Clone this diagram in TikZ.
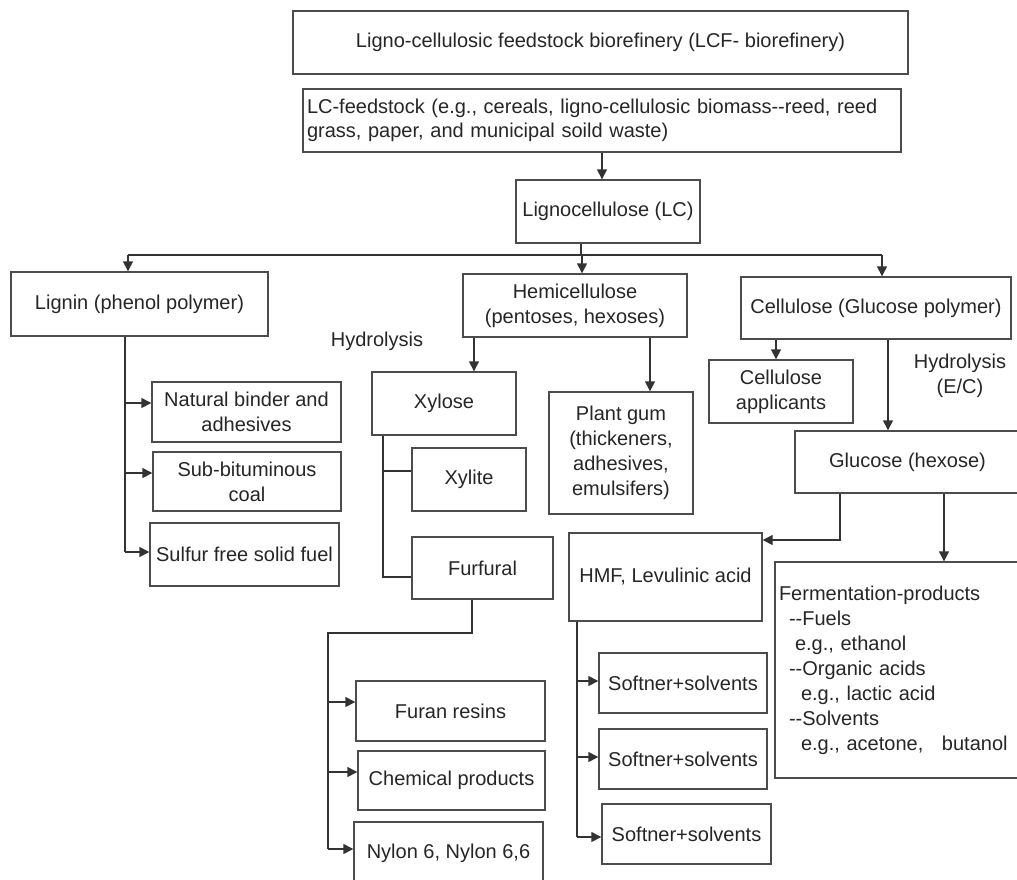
\documentclass[tikz,border=0pt]{standalone}
\usepackage{fontspec}
\setmainfont{Liberation Sans}
\usetikzlibrary{arrows.meta}
\begin{document}
\begin{tikzpicture}[x=1pt,y=-1pt,
  txt/.style={font=\fontsize{20}{25}\selectfont, text=black!85},
  box/.style={txt, draw=black!70, line width=1.4pt, rectangle, inner sep=3pt, align=center},
  conn/.style={draw=black!80, line width=1.4pt},
  arr/.style={conn, -{Triangle[length=10pt,width=10pt]}}
]
\useasboundingbox (0,0) rectangle (1017,879);
\clip (0,0) rectangle (1017,879);
\fill[white] (0,0) rectangle (1017,879);

% boxes
\node[box, minimum width=615, minimum height=63] (title) at (600.5,42.5) {Ligno-cellulosic feedstock biorefinery (LCF- biorefinery)};
\node[box, minimum width=598, minimum height=63, text width=590, align=left, font=\fontsize{20}{24}\selectfont] (feed) at (602,120.5) {LC-feedstock (e.g., cereals, ligno-cellulosic biomass-{}-reed, reed\\grass, paper, and municipal soild waste)};
\node[box, minimum width=184, minimum height=63] (lc) at (608,211.5) {Lignocellulose (LC)};
\node[box, minimum width=257, minimum height=64] (lignin) at (139.5,304) {Lignin (phenol polymer)};
\node[box, minimum width=224, minimum height=63] (hemi) at (575,305.5) {Hemicellulose\\(pentoses, hexoses)};
\node[box, minimum width=270, minimum height=62] (cell) at (876,308) {Cellulose (Glucose polymer)};
\node[box, minimum width=144, minimum height=63] (xylose) at (444,403.5) {Xylose};
\node[box, minimum width=144, minimum height=122] (gum) at (621,453) {Plant gum\\(thickeners,\\adhesives,\\emulsifers)};
\node[box, minimum width=144, minimum height=63] (celapp) at (781,391.5) {Cellulose\\applicants};
\node[box, minimum width=114, minimum height=63] (xylite) at (469,479.5) {Xylite};
\node[box, minimum width=141, minimum height=62] (furfural) at (482.5,568) {Furfural};
\node[box, minimum width=225, minimum height=62] (glucose) at (907.5,462) {Glucose (hexose)};
\node[box, minimum width=193, minimum height=88] (hmf) at (665.5,577) {HMF, Levulinic acid};
\node[box, minimum width=250, minimum height=216, text width=242, align=left, inner xsep=4pt] (ferm) at (900,670) {Fermentation-products\\
\hspace*{10pt}-{}-Fuels\\
\hspace*{16pt}e.g., ethanol\\
\hspace*{10pt}-{}-Organic acids\\
\hspace*{22pt}e.g., lactic acid\\
\hspace*{10pt}-{}-Solvents\\
\hspace*{22pt}e.g., acetone,\hspace*{12pt} butanol};
\node[box, minimum width=189, minimum height=60] (natural) at (246.5,412) {Natural binder and\\adhesives};
\node[box, minimum width=188, minimum height=59] (subbit) at (247,481.5) {Sub-bituminous\\coal};
\node[box, minimum width=189, minimum height=63] (sulfur) at (244.5,554.5) {Sulfur free solid fuel};
\node[box, minimum width=189, minimum height=60] (furan) at (450.5,711) {Furan resins};
\node[box, minimum width=187, minimum height=59] (chem) at (451.5,780.5) {Chemical products};
\node[box, minimum width=189, minimum height=62] (nylon) at (448.5,853) {Nylon 6, Nylon 6,6};
\node[box, minimum width=168, minimum height=60] (soft1) at (683,683) {Softner+solvents};
\node[box, minimum width=168, minimum height=60] (soft2) at (683,759) {Softner+solvents};
\node[box, minimum width=169, minimum height=60] (soft3) at (686.5,834) {Softner+solvents};

% labels
\node[txt] (hyd1) at (377,341) {Hydrolysis};
\node[txt, align=center] (hyd2) at (960,376) {Hydrolysis\\(E/C)};

% coordinates
\coordinate (bus) at (581,255);
\coordinate (busL) at (128,255);
\coordinate (busM) at (582,255);
\coordinate (busR) at (882,255);
\coordinate (lg1) at (125,403);
\coordinate (lg2) at (125,473);
\coordinate (lg3) at (125,552);
\coordinate (xy1) at (383,471);
\coordinate (xy2) at (383,577);
\coordinate (fu1) at (472,633);
\coordinate (fu2) at (328,633);
\coordinate (fa) at (328,702);
\coordinate (fb) at (328,772);
\coordinate (fc) at (328,849);
\coordinate (hm1) at (577,681);
\coordinate (hm2) at (577,757);
\coordinate (hm3) at (577,837);
\coordinate (gl1) at (840,540);

% connectors
\draw[arr] (feed.south) -- (feed.south |- lc.north);
\draw[conn] (lc.south -| bus) -- (bus);
\draw[conn] (busL) -- (busR);
\draw[arr] (busL) -- (busL |- lignin.north);
\draw[arr] (busM) -- (busM |- hemi.north);
\draw[arr] (busR) -- (busR |- cell.north);

\draw[conn] (lignin.south -| lg1) -- (lg3);
\draw[arr] (lg1) -- (lg1 -| natural.west);
\draw[arr] (lg2) -- (lg2 -| subbit.west);
\draw[arr] (lg3) -- (lg3 -| sulfur.west);

\draw[arr] (hemi.south -| 474,0) -- (xylose.north -| 474,0);
\draw[arr] (hemi.south -| 650,0) -- (gum.north -| 650,0);

\draw[conn] (xylose.south -| xy1) -- (xy2) -- (xy2 -| furfural.west);
\draw[conn] (xy1) -- (xy1 -| xylite.west);

\draw[conn] (furfural.south -| fu1) -- (fu1) -- (fu2) -- (fc);
\draw[arr] (fa) -- (fa -| furan.west);
\draw[arr] (fb) -- (fb -| chem.west);
\draw[arr] (fc) -- (fc -| nylon.west);

\draw[conn] (hmf.south -| hm1) -- (hm3);
\draw[arr] (hm1) -- (hm1 -| soft1.west);
\draw[arr] (hm2) -- (hm2 -| soft2.west);
\draw[arr] (hm3) -- (hm3 -| soft3.west);

\draw[arr] (cell.south -| 776,0) -- (celapp.north -| 776,0);
\draw[arr] (cell.south -| 888,0) -- (glucose.north -| 888,0);

\draw[arr] (glucose.south -| gl1) -- (gl1) -- (gl1 -| hmf.east);
\draw[arr] (glucose.south -| 944,0) -- (ferm.north -| 944,0);
\end{tikzpicture}
\end{document}
